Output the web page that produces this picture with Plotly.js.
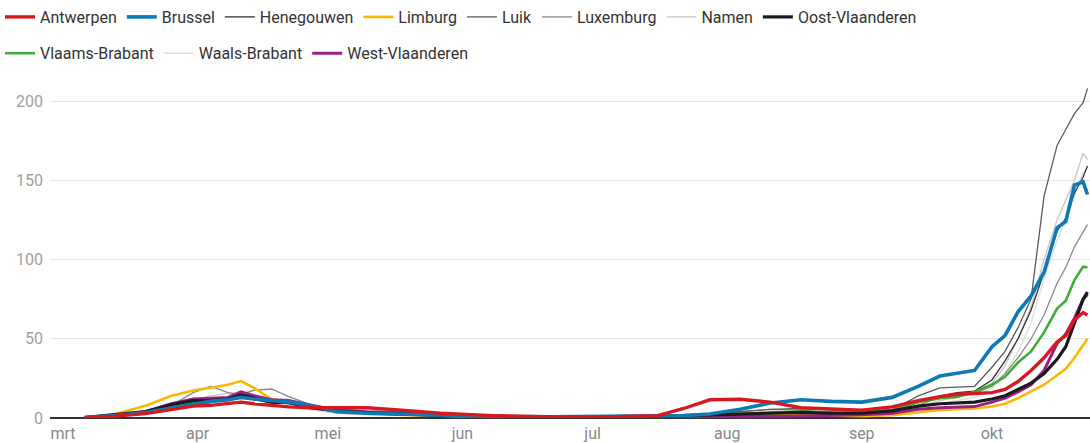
<!DOCTYPE html>
<html>
<head>
<meta charset="utf-8">
<script src="https://cdn.plot.ly/plotly-3.0.1.min.js"></script>
<style>
  html, body { margin: 0; padding: 0; background: #fff; }
  #chart { width: 1090px; height: 443px; }
</style>
</head>
<body>
<div id="chart"></div>
<script>
// Sample dates (2020)
const dates = [
  '2020-03-06','2020-03-13','2020-03-20','2020-03-26','2020-03-31','2020-04-04','2020-04-08','2020-04-11',
  '2020-04-14','2020-04-18','2020-04-22','2020-04-27','2020-05-03','2020-05-10','2020-05-18','2020-05-27',
  '2020-06-08','2020-06-22','2020-07-06','2020-07-16','2020-07-22','2020-07-28','2020-08-04','2020-08-11',
  '2020-08-18','2020-08-25','2020-09-01','2020-09-08','2020-09-14','2020-09-19','2020-09-23','2020-09-27',
  '2020-10-01','2020-10-04','2020-10-07','2020-10-10','2020-10-13','2020-10-16','2020-10-18','2020-10-20',
  '2020-10-22','2020-10-23'
];

const antwerpen = [0.3,1.2,2.8,5.5,7.5,8,9,10,9,8,7,6.5,6.5,6.5,5,3,1.5,0.6,0.8,1.5,6,11.5,11.8,10,6.5,5.5,5,7,11,13.5,15,15.5,16,18,23,30,38,48,52,62,66.5,65];
const brussel = [0.3,1.5,3.5,6.5,9,10.5,11.5,13,12,11,10,8,4,3,2.5,1.5,1,0.8,1,1,1.5,2.5,5.5,9.5,11.5,10.5,10,13,20,26.5,28.5,30,45,52,67,77,92,120,124,147,149,141];
const henegouwen = [0.3,1,3,6,9,11,12,13.5,12,10.5,9.5,7,4,3,2,1.2,0.8,0.5,0.5,0.6,1,1.5,2.5,3.5,4,3.5,3,4,10,14,16,17,24,36,50,68,92,118,126,142,152,159];
const limburg = [0.3,2.5,7.8,14,17.3,19,21,23.3,19,12,10,8,5,3,2,1.5,1,0.6,0.6,0.6,0.8,1,1.5,2,2,1.5,1.2,1.8,3.5,5,5.5,6,7.2,9,12.5,17,21,27,31,38,46,50];
const luik = [0.2,1,3,6,9,10.5,11,13,11.5,10,9,6.5,4,3,2,1.2,0.8,0.5,0.6,0.8,1.5,2.5,4,5.5,6,5,4,5,14,19,19.5,20,32,42,57,75,140,172,182,192,199,208];
const luxemburg = [0.2,1,4,8,16,20,16,15,17.5,18.3,13.5,8.5,5,3,2,1,0.5,0.3,0.5,0.5,1,2,4,5.5,5,3.5,3,4,8,13,14.5,15.5,20,28,38,50,65,85,95,108,117,122];
const namen = [0.2,1,3,7,11,14,15.5,14,12,10.5,9,6,4,2.5,1.8,1,0.6,0.4,0.5,0.5,0.8,1.5,2.5,3.5,4,3.5,3,4,7,11,13,16,22,33,50,70,100,125,138,150,167,163];
const oostVlaanderen = [0.2,2,4,8.5,11,11.2,12,14.5,12.5,9.8,9.8,6.5,4.5,3.3,2.5,2,1,0.8,0.8,1,1.5,2,2.5,3,3.5,3,3,4.5,7.5,9,9.5,10,12,14,18,22,28,37,45,60,75,79.5];
const vlaamsBrabant = [0.2,1.2,3.5,7,10,11,11.5,13.5,12,10.5,10,7,4.5,3,2.5,1.5,0.8,0.5,0.5,0.6,1,1.5,2.5,3.5,4,3.5,3.5,5,10,12.5,13.2,16.5,21,26,35,42,54,69,74,87,95.5,95];
const waalsBrabant = [0.2,1,2.5,5,8,9.5,10,9.5,9,8,7,5,3,2,1.5,1,0.5,0.4,0.5,0.6,1,1.5,2.5,3,3.5,3,3,3.5,6,9,11,13,19,28,42,60,88,112,125,140,155,158];
const westVlaanderen = [0.2,1.5,4,9,12,12.5,13,16.5,14,11.5,11,8,5,4,3.5,2,1,0.6,0.6,0.6,0.8,1,1,1,1.2,1.5,2,3,5.5,6.5,7,7.2,10,12.5,16.5,21,30,47,53,63,75,78];

const monthTicks = ['2020-03-01','2020-04-01','2020-05-01','2020-06-01','2020-07-01','2020-08-01','2020-09-01','2020-10-01'];
const monthLabels = ['mrt','apr','mei','jun','jul','aug','sep','okt'];
const yTicks = [0, 50, 100, 150, 200];

// [name, values, color, width, legend rank, legend id] (array order = drawing order)
const series = [
  ['Waals-Brabant', waalsBrabant, '#dcdcdc', 1.3, 10, 'legend2'],
  ['Namen', namen, '#c6c6c6', 1.3, 7, 'legend'],
  ['Luxemburg', luxemburg, '#8a8a8a', 1.3, 6, 'legend'],
  ['Luik', luik, '#5c5c5c', 1.3, 5, 'legend'],
  ['Henegouwen', henegouwen, '#333333', 1.3, 3, 'legend'],
  ['Limburg', limburg, '#fbb800', 2.6, 4, 'legend'],
  ['Vlaams-Brabant', vlaamsBrabant, '#3fac35', 2.6, 9, 'legend2'],
  ['West-Vlaanderen', westVlaanderen, '#9c1f88', 3, 11, 'legend2'],
  ['Oost-Vlaanderen', oostVlaanderen, '#1c1a1f', 3.2, 8, 'legend'],
  ['Brussel', brussel, '#0e7ab4', 3.6, 2, 'legend'],
  ['Antwerpen', antwerpen, '#d7191f', 3.4, 1, 'legend']
];

const traces = series.map(s => ({
  type: 'scatter', mode: 'lines', name: s[0], x: dates, y: s[1],
  line: {color: s[2], width: s[3], shape: 'linear'},
  legendrank: s[4], legend: s[5], hoverinfo: 'skip'
}));

const fam = 'Roboto, "Open Sans", sans-serif';
const layout = {
  width: 1090, height: 443,
  margin: {l: 50, r: 0, t: 82, b: 25},
  paper_bgcolor: '#fff', plot_bgcolor: '#fff',
  font: {family: fam, size: 16, color: '#333'},
  showlegend: true,
  legend: {
    orientation: 'h', xref: 'container', yref: 'container',
    x: 0.0, y: 1.0, xanchor: 'left', yanchor: 'top',
    font: {size: 16, color: '#333'}, traceorder: 'normal', bgcolor: 'rgba(0,0,0,0)'
  },
  legend2: {
    orientation: 'h', xref: 'container', yref: 'container',
    x: 0.0, y: 0.918, xanchor: 'left', yanchor: 'top',
    font: {size: 16, color: '#333'}, traceorder: 'normal', bgcolor: 'rgba(0,0,0,0)'
  },
  xaxis: {
    type: 'date', range: ['2020-02-27', '2020-10-23 14:00'],
    tickvals: monthTicks, ticktext: monthLabels,
    showgrid: false, zeroline: false, showline: false, ticks: '',
    tickfont: {size: 16, color: '#888'}, ticklabelstandoff: 4, fixedrange: true
  },
  yaxis: {
    range: [0, 212], tickvals: yTicks,
    showgrid: true, gridcolor: '#e4e4e4', gridwidth: 1,
    zeroline: true, zerolinecolor: '#333', zerolinewidth: 1.5,
    showline: false, ticks: '', ticklabelstandoff: 6,
    tickfont: {size: 16, color: '#a0a0a0'}, fixedrange: true
  }
};

Plotly.newPlot('chart', traces, layout, {displayModeBar: false, staticPlot: true});
</script>
</body>
</html>
